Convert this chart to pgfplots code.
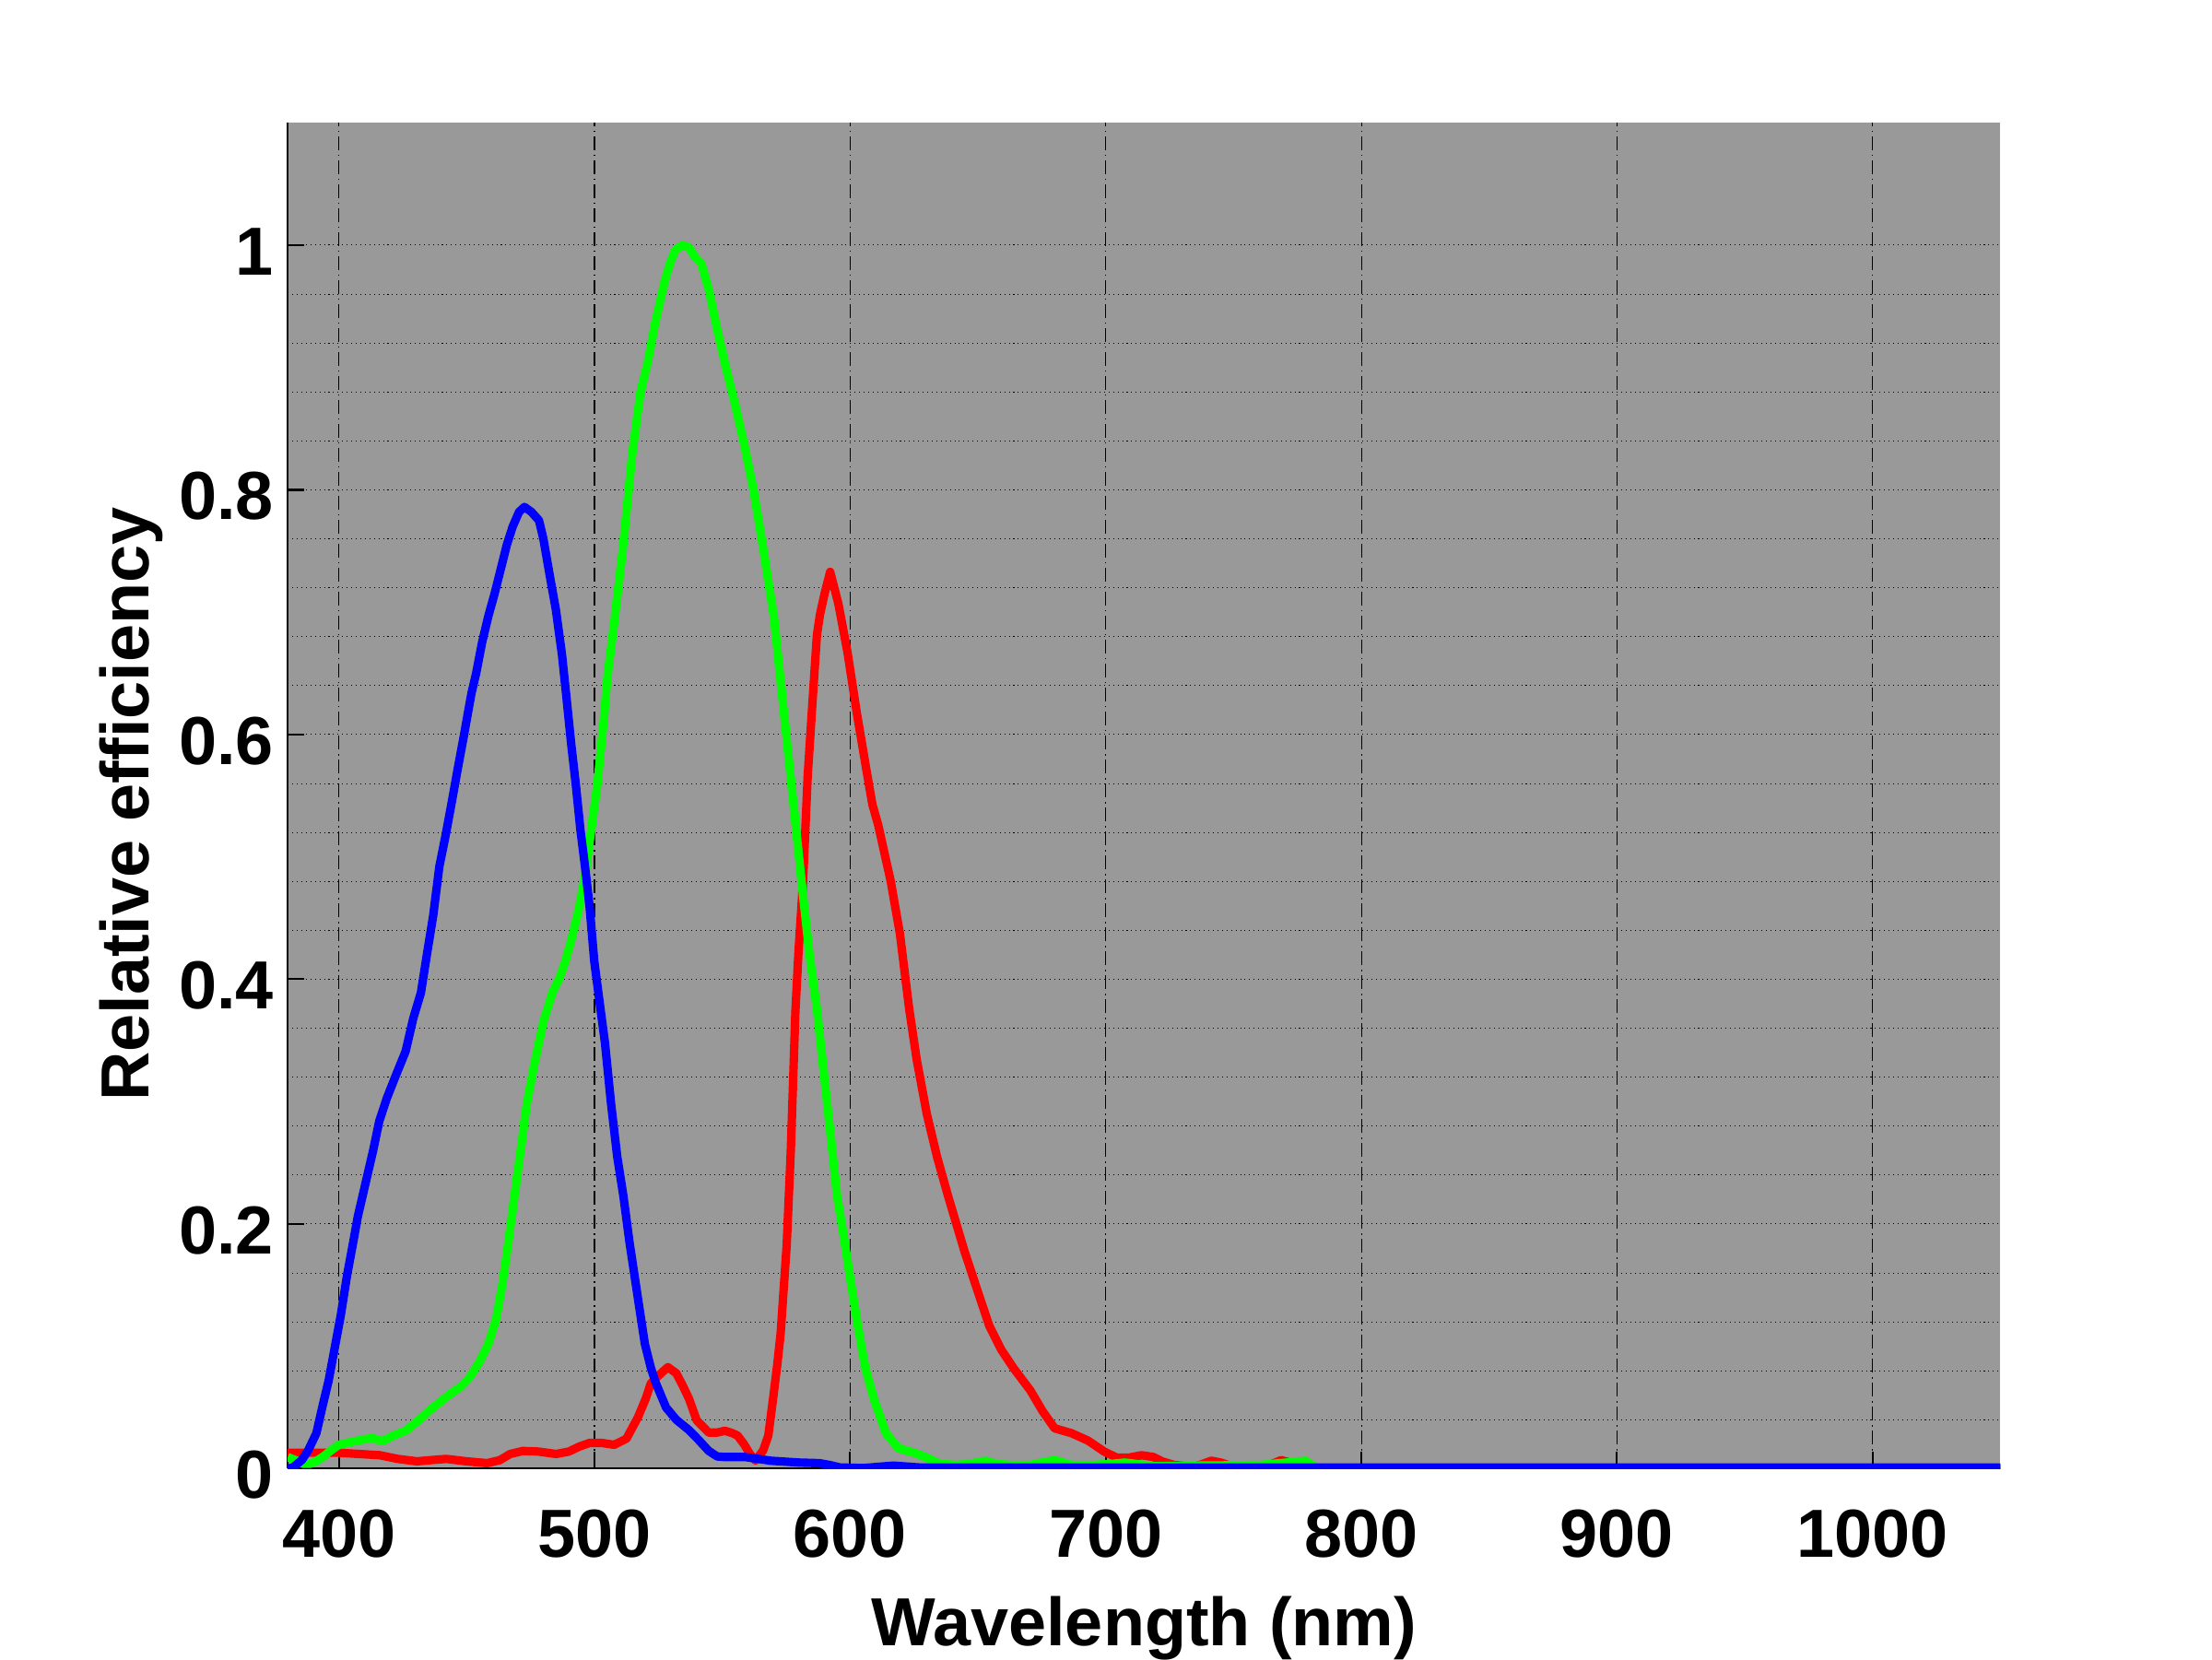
\documentclass[border=0pt]{standalone}
\usepackage{pgfplots}
\pgfplotsset{compat=1.18}
\usepackage{fontspec}
\setmainfont{Liberation Sans}
\definecolor{bggray}{RGB}{153,153,153}
\definecolor{cred}{RGB}{255,0,0}
\definecolor{cgreen}{RGB}{0,255,0}
\definecolor{cblue}{RGB}{0,0,255}
\begin{document}
\begin{tikzpicture}
\useasboundingbox (0,0) rectangle (24cm,18cm);
\begin{axis}[
  at={(3.122cm,2.066cm)}, anchor=south west,
  scale only axis, width=18.582cm, height=14.602cm,
  xmin=380, xmax=1050, ymin=0, ymax=1.1,
  xtick={400,500,600,700,800,900,1000}, ytick={0,0.2,0.4,0.6,0.8,1},
  minor y tick num=4,
  axis x line*=bottom, axis y line*=left,
  axis line style={black, line width=0.6pt},
  tick align=inside, major tick length=0.18cm, minor tick length=0pt,
  tick style={black, line width=0.6pt},
  xmajorgrids, ymajorgrids, yminorgrids,
  x grid style={black, line width=0.3pt, dash pattern=on 4.3pt off 1.3pt on 0.5pt off 1.3pt},
  y grid style={black, line width=0.3pt, dash pattern=on 0.3pt off 1.1pt},
  axis background/.style={fill=bggray},
  font=\bfseries\fontsize{21}{25}\selectfont,
  ticklabel style={font=\bfseries\fontsize{21}{25}\selectfont},
  /pgf/number format/assume math mode=true,
  /pgf/number format/1000 sep={},
  xticklabel style={anchor=north, inner sep=0pt, yshift=-0.44cm},
  yticklabel style={anchor=east, inner sep=0pt, xshift=-0.145cm, yshift=-0.07cm},
  xlabel={Wavelength (nm)}, ylabel={Relative efficiency},
  xlabel style={at={(axis description cs:0.5,-0.1318)}, anchor=base, inner sep=0pt},
  ylabel style={at={(axis description cs:-0.0727,0.4937)}, anchor=south, inner sep=0pt},
  every axis plot/.append style={line width=2.6pt, line join=round, no markers},
]
% red
\addplot[cred] coordinates {
(380,0.013)(390,0.013)(400,0.013)(408,0.012)(416,0.011)(423,0.008)(430.5,0.006)
(436,0.007)(442,0.008)(450,0.006)(458,0.0045)(463,0.007)(467,0.012)(472,0.0145)
(478,0.014)(485,0.012)(490,0.014)(494,0.018)(498,0.021)(503,0.021)(507.7,0.0195)
(512.5,0.0245)(517,0.042)(520,0.057)(522,0.0695)(524.5,0.075)(528.7,0.083)(532,0.078)
(534.5,0.068)(537,0.057)(540,0.0395)(544.7,0.0295)(548,0.0295)(551,0.031)(554,0.029)
(556,0.027)(558.5,0.020)(560.8,0.012)(563,0.0065)(566,0.015)(568,0.027)(570,0.0595)
(571.5,0.085)(572.8,0.11)(575.2,0.183)(576.8,0.26)(578.6,0.374)(579.8,0.422)
(581.6,0.48)(583.4,0.566)(585.2,0.624)(587,0.681)(588.2,0.698)(590,0.715)(592.2,0.733)
(595.4,0.707)(599,0.667)(602.6,0.618)(606.3,0.572)(608.7,0.543)(611,0.526)
(615.9,0.48)(619.5,0.437)(623.1,0.376)(626,0.335)(630,0.290)(634,0.255)(638.3,0.223)
(644.7,0.178)(649.6,0.147)(654.4,0.117)(659.2,0.097)(664,0.082)(670.5,0.064)
(675.3,0.047)(680,0.033)(686.6,0.029)(693,0.023)(699.4,0.014)(704.3,0.009)(709,0.009)
(714,0.011)(718.7,0.0095)(722,0.006)(726.8,0.003)(734.8,0.0015)(741.3,0.0065)
(745,0.005)(749.3,0.002)(757,0)(763,0.002)(768.6,0.007)(772,0.005)(775,0.0015)
(780,0)(1050,0)
};
% green
\addplot[cgreen] coordinates {
(380,0.0095)(383,0.007)(386,0.004)(388.7,0.004)(391,0.006)(393.6,0.0095)(397,0.015)
(400,0.0195)(405,0.022)(410,0.024)(413,0.025)(417,0.0225)(421.2,0.027)(426.1,0.031)
(430.9,0.039)(435.7,0.048)(440.5,0.056)(444.1,0.062)(447.7,0.067)(451.3,0.075)
(454.9,0.087)(458.5,0.102)(461.5,0.122)(463.9,0.150)(466.3,0.185)(468.7,0.223)
(471.1,0.260)(473.5,0.298)(476.5,0.331)(480.1,0.366)(483.7,0.390)(486.1,0.400)
(488.5,0.414)(490.9,0.432)(493.6,0.455)(496.3,0.484)(498.7,0.522)(501.1,0.559)
(503.5,0.609)(505.2,0.650)(507.6,0.690)(511,0.750)(514.8,0.830)(518,0.880)
(520.8,0.904)(523.8,0.937)(527.4,0.970)(529.5,0.985)(531.6,0.996)(534.4,1.000)
(537,0.998)(539.4,0.990)(541.8,0.985)(544.8,0.963)(547.8,0.933)(551.4,0.900)
(555,0.870)(558.6,0.837)(562.2,0.800)(565.8,0.755)(570.2,0.696)(573.8,0.624)
(577.4,0.552)(581,0.480)(584,0.422)(587,0.376)(590,0.318)(592.5,0.270)(594.9,0.223)
(597.5,0.190)(599.7,0.160)(603,0.117)(606,0.082)(609.3,0.057)(614,0.029)(619,0.0166)
(625.4,0.0128)(630,0.009)(635,0.004)(641.5,0.003)(647,0.004)(652.8,0.0065)(657,0.004)
(662.4,0.003)(670.5,0.003)(675,0.005)(680,0.007)(686.6,0.003)(695,0.003)(702.7,0.004)
(707.5,0.005)(718.7,0.002)(734.8,0.0025)(760.6,0.003)(778.3,0.0065)(782,0.001)
(785,0)(1050,0)
};
% blue
\addplot[cblue] coordinates {
(380,0)(382,0.001)(385.5,0.007)(388,0.015)(391.2,0.029)(393.6,0.051)(396,0.072)
(398.4,0.099)(400.8,0.126)(403.2,0.158)(405.6,0.185)(407.4,0.206)(410.4,0.233)
(413.4,0.260)(415.8,0.284)(418.8,0.303)(422.4,0.322)(426.1,0.341)(429.1,0.368)
(432.1,0.389)(434.5,0.421)(436.9,0.452)(439.3,0.492)(441.7,0.517)(444.1,0.544)
(446.5,0.572)(448.9,0.599)(450.6,0.619)(451.9,0.634)(453.7,0.650)(456,0.675)
(458.5,0.697)(460.9,0.715)(463.3,0.735)(465.7,0.755)(468,0.770)(470.5,0.782)
(472.6,0.786)(475.3,0.782)(478.3,0.775)(480,0.760)(482.5,0.730)(484.9,0.702)
(487.3,0.665)(489.1,0.629)(490.9,0.592)(492.7,0.559)(494.5,0.522)(496.3,0.492)
(498.1,0.459)(499.9,0.415)(501.7,0.386)(504.1,0.348)(506.5,0.298)(508.9,0.255)
(511.3,0.223)(513.7,0.185)(515.5,0.160)(517.3,0.135)(519.7,0.102)(522.1,0.082)
(524,0.070)(528,0.050)(532,0.040)(536.7,0.032)(540.5,0.024)(544.7,0.0145)(548,0.010)
(551,0.0095)(559,0.0095)(564,0.008)(569,0.0065)(580,0.005)(588,0.0045)(592,0.003)
(596,0.001)(605,0.0005)(617,0.0025)(627,0.001)(640,0.001)(1050,0.001)
};
\end{axis}
\end{tikzpicture}
\end{document}
